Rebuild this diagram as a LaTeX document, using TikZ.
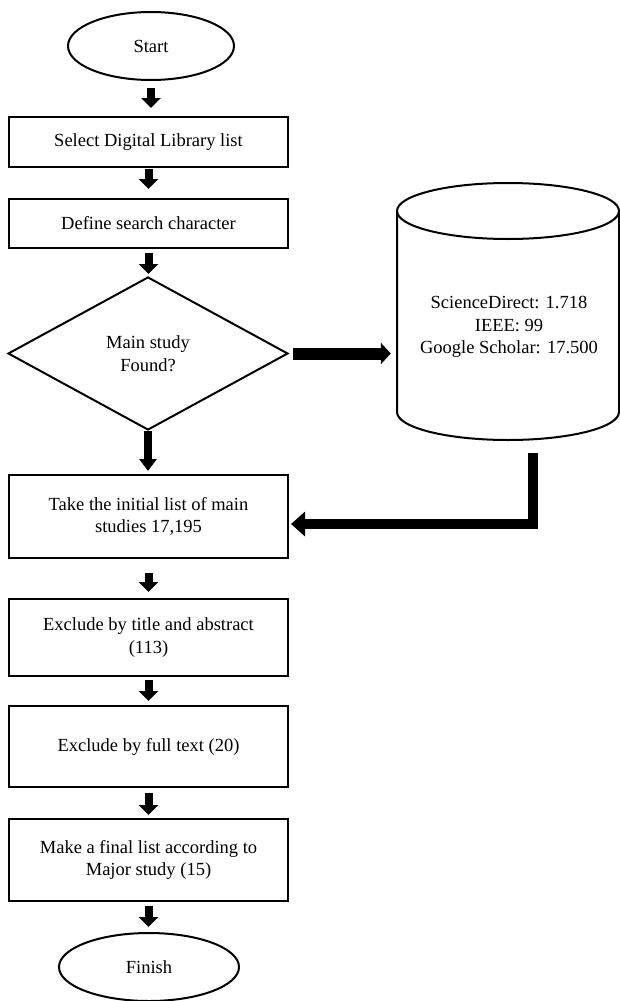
\documentclass[tikz,border=0pt]{standalone}
\usepackage{fontspec}
\setmainfont{Liberation Serif}
\usetikzlibrary{shapes.geometric,arrows.meta}
\begin{document}
\begin{tikzpicture}[x=1pt,y=-1pt,
  every node/.style={font=\fontsize{18.5}{22.5}\selectfont, align=center},
  procbox/.style={draw, line width=2pt, minimum width=279pt, inner sep=0pt},
  term/.style={draw, ellipse, line width=2pt, inner sep=0pt},
  dec/.style={draw, diamond, line width=2pt, inner sep=0pt, minimum width=280pt, minimum height=153pt, aspect=1.83},
  blk/.style={line width=8pt, -{Triangle[width=19pt,length=10pt]}},
]
\useasboundingbox (0,0) rectangle (620,1001);
\node[term, minimum width=166pt, minimum height=68pt] (start) at (151,46) {Start};
\node[procbox, minimum height=50pt] (b1) at (148.5,142) {Select Digital Library list};
\node[procbox, minimum height=49pt] (b2) at (148.5,223.5) {Define search character};
\node[dec] (d) at (148,353.5) {Main study\\Found?};
\node[procbox, minimum height=83pt] (b3) at (148.5,516.5) {Take the initial list of main\\studies 17,195};
\node[procbox, minimum height=77pt] (b4) at (148.5,637.5) {Exclude by title and abstract\\(113)};
\node[procbox, minimum height=81pt] (b5) at (148.5,746.5) {Exclude by full text (20)};
\node[procbox, minimum height=82pt] (b6) at (148.5,860) {Make a final list according to\\Major study (15)};
\node[term, minimum width=180pt, minimum height=68pt] (fin) at (149,967) {Finish};
% database cylinder
\node[minimum width=222pt, minimum height=257pt, inner sep=0pt] (cyl) at (508,311.5) {};
\draw[line width=2pt] (397,211) -- (397,412) arc[start angle=180, end angle=0, x radius=111, y radius=28] -- (619,211);
\draw[line width=2pt] (508,211) ellipse[x radius=111, y radius=28];
\node (db) at (509,327) {ScienceDirect: 1.718\\IEEE: 99\\Google Scholar: 17.500};
% arrows
\draw[blk, shorten <=7pt, shorten >=8pt] (start.south) -- (start.south |- b1.north);
\draw[blk, shorten <=1pt, shorten >=9pt] (b1.south) -- (b2.north);
\draw[blk, shorten <=4pt, shorten >=2pt] (b2.south) -- (b2.south |- d.north);
\draw[line width=8pt, -{Triangle[width=17pt,length=12pt]}, shorten >=3pt] (d.south) -- (d.south |- b3.north);
\draw[blk, shorten <=14pt, shorten >=6pt] (b3.south) -- (b4.north);
\draw[blk, shorten <=3pt, shorten >=4pt] (b4.south) -- (b5.north);
\draw[blk, shorten <=5pt, shorten >=3pt] (b5.south) -- (b6.north);
\draw[blk, shorten <=4pt, shorten >=5pt] (b6.south) -- (b6.south |- fin.north);
\draw[line width=12pt, -{Triangle[width=21pt,length=10pt]}, shorten <=4pt, shorten >=6pt] (d.east) -- (d.east -| cyl.west);
\draw[line width=10pt, -{Triangle[width=24pt,length=14pt]}] ([xshift=25pt,yshift=-13pt]cyl.south) |- ([xshift=2pt,yshift=-7.5pt]b3.east);
\end{tikzpicture}
\end{document}
